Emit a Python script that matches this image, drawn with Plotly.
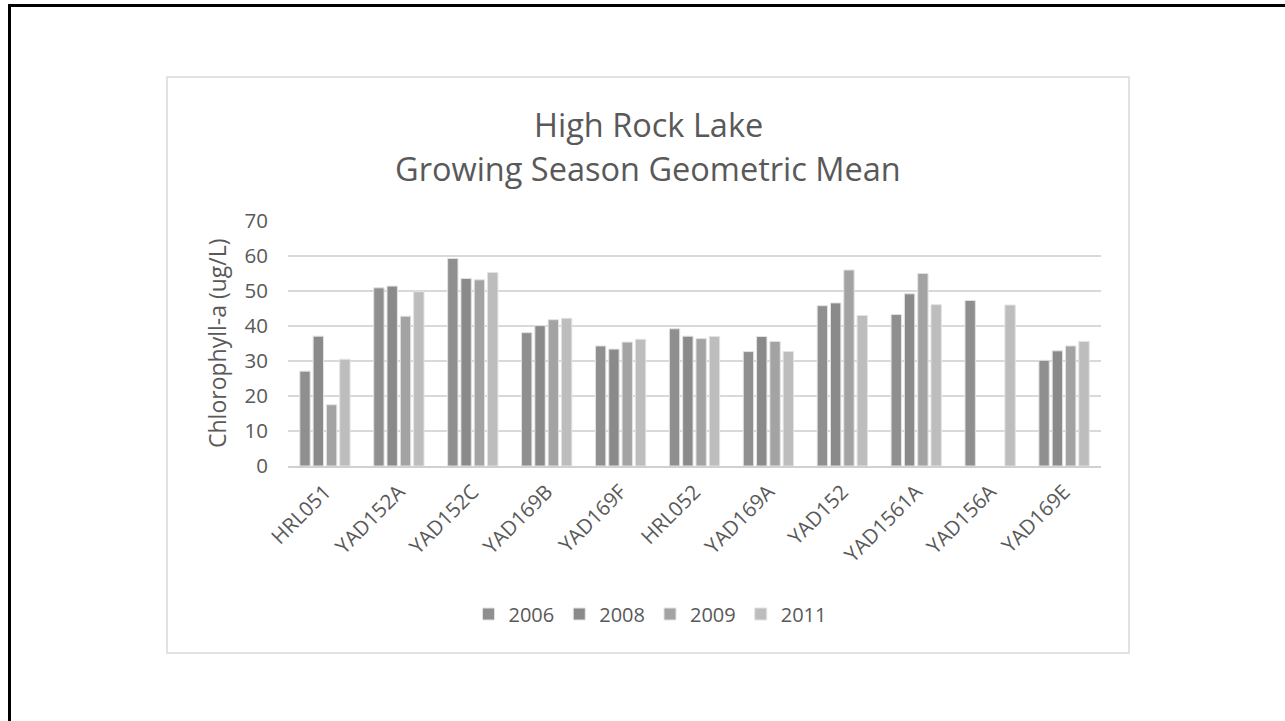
import plotly.graph_objects as go

# Monitoring stations along the x axis
stations = ["HRL051", "YAD152A", "YAD152C", "YAD169B", "YAD169F", "HRL052",
            "YAD169A", "YAD152", "YAD1561A", "YAD156A", "YAD169E"]

# Growing-season geometric mean chlorophyll-a (ug/L) per year; None = no sample
chl_2006 = [27.1, 50.9, 59.3, 38.1, 34.3, 39.2, 32.7, 45.8, 43.3, 47.3, 30.2]
chl_2008 = [37.1, 51.4, 53.6, 40.1, 33.4, 37.1, 37.0, 46.6, 49.2, None, 32.9]
chl_2009 = [17.5, 42.8, 53.2, 41.8, 35.4, 36.4, 35.6, 56.0, 55.0, None, 34.3]
chl_2011 = [30.5, 49.8, 55.3, 42.2, 36.2, 37.0, 32.7, 43.0, 46.1, 46.0, 35.6]

years = ["2006", "2008", "2009", "2011"]
series = [chl_2006, chl_2008, chl_2009, chl_2011]
colors = ["#8f8f8f", "#8a8a8a", "#a3a3a3", "#bdbdbd"]

y_ticks = [0, 10, 20, 30, 40, 50, 60, 70]

W, H = 1285, 721
# plot area in page pixels
PL, PR, PT, PB = 288, 1101, 221, 466


def px_x(x):
    return (x - PL) / (PR - PL)


def px_y(y):
    return (PB - y) / (PB - PT)


TEXT = "#595959"
FONT = "Open Sans"

fig = go.Figure()
for yr, vals, col in zip(years, series, colors):
    fig.add_trace(go.Bar(
        name=yr, x=stations, y=vals,
        marker=dict(color=col, line=dict(color="#e3e3e3", width=1)),
    ))

fig.update_layout(
    width=W, height=H,
    margin=dict(l=PL, r=W - PR, t=PT, b=H - PB, pad=0),
    paper_bgcolor="white", plot_bgcolor="white",
    barmode="group", bargap=0.28, bargroupgap=0.22,
    font=dict(family=FONT, color=TEXT, size=20),
    showlegend=True,
    legend=dict(
        orientation="h", x=px_x(650), xanchor="center",
        y=px_y(614), yanchor="middle",
        font=dict(family=FONT, size=20, color=TEXT),
        bgcolor="rgba(0,0,0,0)", traceorder="normal",
    ),
    xaxis=dict(
        tickangle=-45, tickfont=dict(family=FONT, size=20.5, color=TEXT),
        showgrid=False, showline=True, linecolor="#d0d0d0", linewidth=1.5,
        ticks="", ticklabelstandoff=4, fixedrange=True,
    ),
    yaxis=dict(
        range=[0, 70], tickvals=y_ticks, ticktext=[str(v) for v in y_ticks],
        tickfont=dict(family=FONT, size=20.5, color=TEXT),
        showgrid=True, gridcolor="#d9d9d9", gridwidth=1.5,
        zeroline=False, showline=False, ticks="", ticklabelstandoff=19,
        fixedrange=True,
    ),
)

# chart frame and slide border
fig.add_shape(type="rect", xref="paper", yref="paper",
              x0=px_x(167), x1=px_x(1129), y0=px_y(653), y1=px_y(77),
              line=dict(color="#d9d9d9", width=1.5), layer="below")
fig.add_shape(type="line", xref="paper", yref="paper",
              x0=px_x(9.5), x1=px_x(9.5), y0=px_y(5.5), y1=px_y(730),
              line=dict(color="black", width=3))
fig.add_shape(type="line", xref="paper", yref="paper",
              x0=px_x(8), x1=px_x(1295), y0=px_y(5.5), y1=px_y(5.5),
              line=dict(color="black", width=3))

# two-line title
fig.add_annotation(text="High Rock Lake", xref="paper", yref="paper",
                   x=px_x(648), y=px_y(125), xanchor="center", yanchor="middle",
                   showarrow=False, font=dict(family=FONT, size=32.5, color=TEXT))
fig.add_annotation(text="Growing Season Geometric Mean", xref="paper", yref="paper",
                   x=px_x(648), y=px_y(168), xanchor="center", yanchor="middle",
                   showarrow=False, font=dict(family=FONT, size=32.5, color=TEXT))

# y axis title
fig.add_annotation(text="Chlorophyll-a (ug/L)", xref="paper", yref="paper",
                   x=px_x(217), y=px_y(343), xanchor="center", yanchor="middle",
                   textangle=-90, showarrow=False,
                   font=dict(family=FONT, size=23, color=TEXT))

fig.write_html("out.html")
